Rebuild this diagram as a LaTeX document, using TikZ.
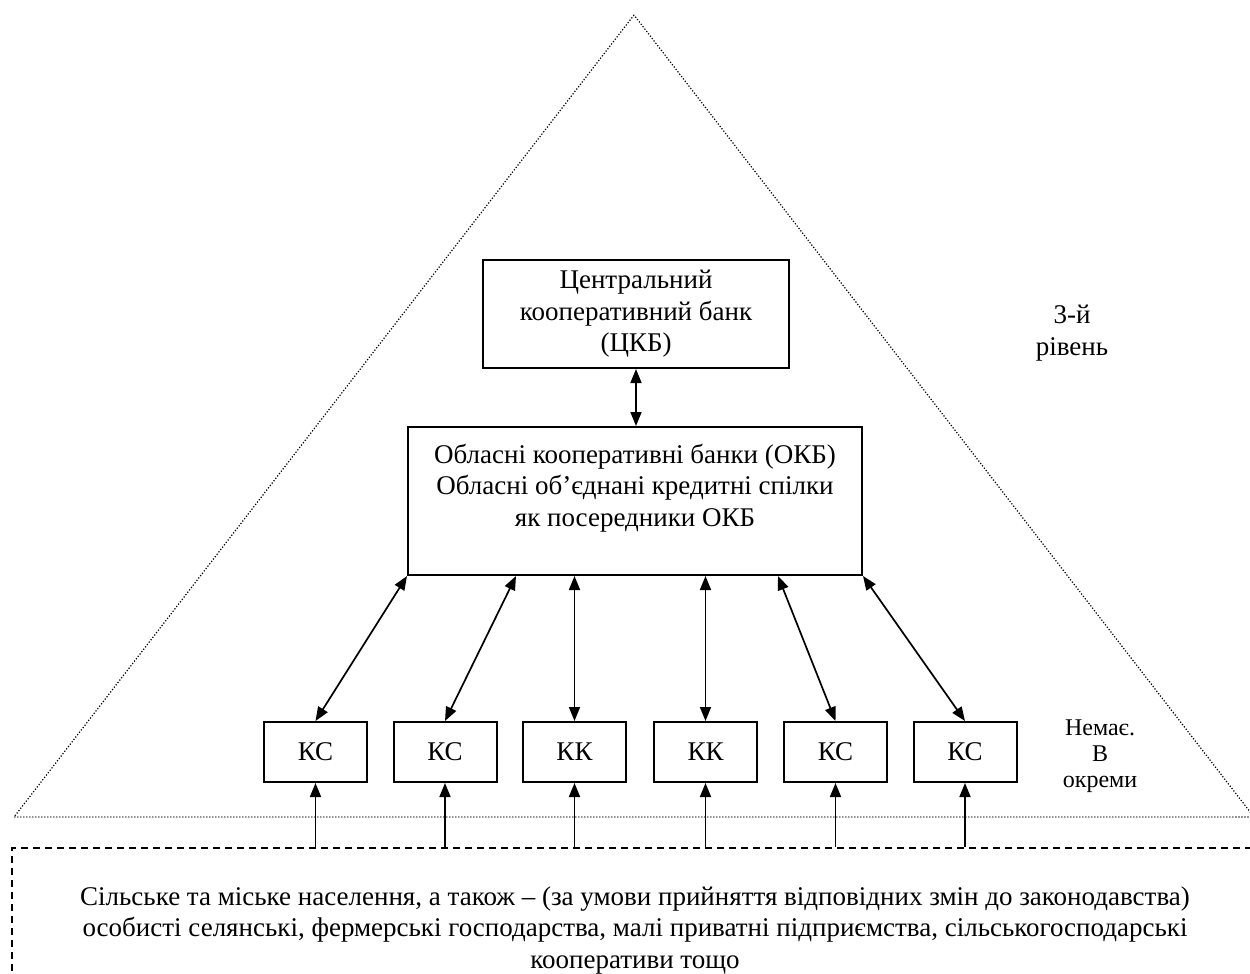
\documentclass[tikz,border=0pt]{standalone}
\usepackage{fontspec}
\setmainfont{Liberation Serif}
\usetikzlibrary{arrows.meta,calc}
\begin{document}
\begin{tikzpicture}[x=1pt,y=-1pt,
  txt/.style={font=\fontsize{27}{31.5}\selectfont, align=center},
  box/.style={txt, draw, line width=2pt, inner sep=0pt},
  smallbox/.style={box, minimum width=103pt, minimum height=60pt},
  tri/.style={line width=1.2pt, dash pattern=on 1.2pt off 1.8pt},
  popbox/.style={txt, draw, line width=1.4pt, dash pattern=on 7pt off 5pt, inner sep=0pt, minimum width=1246pt, minimum height=164pt},
  arr/.style={line width=1.7pt, {Triangle[length=14pt,width=11pt]}-{Triangle[length=14pt,width=11pt]}},
  uparr/.style={line width=1.7pt, -{Triangle[length=14pt,width=11pt]}}
]
\useasboundingbox (0,0) rectangle (1250,974);
% pyramid
\draw[tri] (634,15) -- (14,817) -- (1254,817) -- cycle;
% population box
\node[popbox] (pop) at (635,930) {Сільське та міське населення, а також – (за умови прийняття відповідних змін до законодавства)\\особисті селянські, фермерські господарства, малі приватні підприємства, сільськогосподарські\\кооперативи тощо};
% banks
\node[box, minimum width=306pt, minimum height=108pt] (ckb) at (636,314) {\raisebox{0pt}[0pt][0pt]{}Центральний\\кооперативний банк\\(ЦКБ)};
\node[box, minimum width=454pt, minimum height=148pt] (okb) at (635,501) {Обласні кооперативні банки (ОКБ)\\Обласні об’єднані кредитні спілки\\як посередники ОКБ\\\mbox{}};
% local units
\node[smallbox] (ks1) at (315.5,752) {КС};
\node[smallbox] (ks2) at (445,752) {КС};
\node[smallbox] (kk3) at (574.5,752) {КК};
\node[smallbox] (kk4) at (705.5,752) {КК};
\node[smallbox] (ks5) at (835.5,752) {КС};
\node[smallbox] (ks6) at (965,752) {КС};
% labels
\node[txt] (lvl3) at (1072,333) {3-й\\рівень};
\begin{scope}
\clip (1030,700) rectangle (1170,792);
\node[font=\fontsize{24}{26}\selectfont, align=center] (note) at (1100,756) {Немає.\\В\\окреми};
\end{scope}
% connectors
\draw[arr] (ckb.south) -- (okb.north -| ckb.south);
\draw[arr] (okb.south west) -- (ks1.north);
\draw[arr] ($(okb.south west)+(109,0)$) -- (ks2.north);
\draw[arr] (okb.south -| kk3.north) -- (kk3.north);
\draw[arr] (okb.south -| kk4.north) -- (kk4.north);
\draw[arr] ($(okb.south east)+(-85,0)$) -- (ks5.north);
\draw[arr] (okb.south east) -- (ks6.north);
\foreach \n in {ks1,ks2,kk3,kk4,ks5,ks6}
  \draw[uparr] (pop.north -| \n.south) -- (\n.south);
\end{tikzpicture}
\end{document}
